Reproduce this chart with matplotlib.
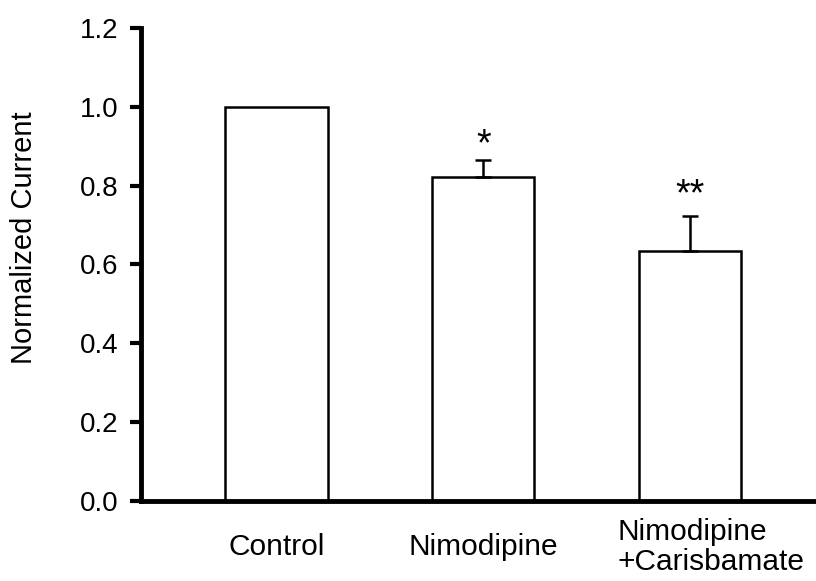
import numpy as np
import matplotlib
matplotlib.use("Agg")
import matplotlib.pyplot as plt
import matplotlib.transforms as mtransforms

plt.rcParams['font.family'] = ['Liberation Sans', 'DejaVu Sans']

groups = ["Control", "Nimodipine", "Nimodipine\n+Carisbamate"]
current = [1.0, 0.823, 0.635]
sem = [0.0, 0.043, 0.087]
stars = ["", "*", "**"]

fig = plt.figure(figsize=(8.16, 5.81), dpi=100)
ax = fig.add_axes([0.1728, 0.1377, 0.83, 0.8143])

x = np.arange(len(groups))
ax.bar(x, current, width=0.495, color='white', edgecolor='black', linewidth=1.8, zorder=2)
for xi, m, e in zip(x, current, sem):
    if e > 0:
        ax.errorbar(xi, m, yerr=[[0], [e]], fmt='none', ecolor='black',
                    elinewidth=1.8, capsize=5.5, capthick=1.8, zorder=3)

# significance marks sit a little above the caps
star_lift = [0, 10, 15]
for xi, m, e, s, lift in zip(x, current, sem, stars, star_lift):
    if s:
        ax.annotate(s, (xi, m + e), xytext=(0, lift), textcoords='offset points',
                    ha='center', va='center', fontsize=27)

ax.set_xlim(-0.655, 2.62)
ax.set_ylim(0, 1.2)
ax.set_yticks(np.arange(0, 1.21, 0.2))
ax.set_yticklabels([f"{v:.1f}" for v in np.arange(0, 1.21, 0.2)], fontsize=20)
ax.set_xticks(x)
ax.set_xticklabels(groups, fontsize=21.5, linespacing=1.1)
ax.tick_params(axis='x', length=0, pad=33)
ax.tick_params(axis='y', length=8, width=3, direction='out', pad=8)
for lab in ax.get_xticklabels():
    lab.set_va('center')
    lab.set_multialignment('left')
# two-line label is left-aligned and nudged right
last = ax.get_xticklabels()[-1]
last.set_transform(last.get_transform() + mtransforms.ScaledTranslation(21 / 100, 0, fig.dpi_scale_trans))

ax.set_ylabel("Normalized Current", fontsize=21)
ax.yaxis.set_label_coords(-0.152, 0.556)

for side in ['top', 'right']:
    ax.spines[side].set_visible(False)
for side in ['left', 'bottom']:
    ax.spines[side].set_linewidth(3.5)

fig.savefig("out.png", dpi=100)
